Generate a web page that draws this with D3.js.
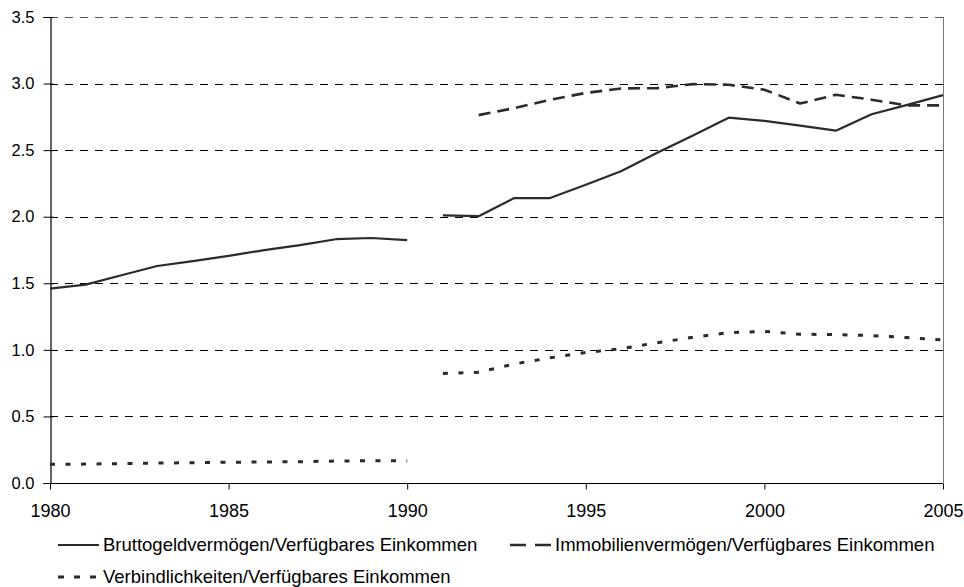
<!DOCTYPE html>
<html>
<head>
<meta charset="utf-8">
<script src="https://cdn.jsdelivr.net/npm/d3@7"></script>
<style>
  html, body { margin: 0; padding: 0; background: #fff; }
  svg { display: block; font-family: "Liberation Sans", Arial, sans-serif; }
</style>
</head>
<body>
<svg id="chart" width="964" height="587"></svg>
<script>
// Ratios to disposable income (Germany), 1980–2005; break in 1990/91
const yearsWest = [1980, 1981, 1982, 1983, 1984, 1985, 1986, 1987, 1988, 1989, 1990];
const yearsUnified = [1991, 1992, 1993, 1994, 1995, 1996, 1997, 1998, 1999, 2000, 2001, 2002, 2003, 2004, 2005];
const yearsRealEstate = [1992, 1993, 1994, 1995, 1996, 1997, 1998, 1999, 2000, 2001, 2002, 2003, 2004, 2005];

const bruttoWest = [1.46, 1.49, 1.56, 1.63, 1.667, 1.706, 1.749, 1.786, 1.831, 1.84, 1.824];
const bruttoUnified = [2.01, 2.004, 2.14, 2.14, 2.24, 2.343, 2.48, 2.61, 2.744, 2.72, 2.684, 2.646, 2.77, 2.84, 2.913];

const immobilien = [2.763, 2.816, 2.878, 2.93, 2.963, 2.966, 2.996, 2.991, 2.954, 2.85, 2.916, 2.879, 2.836, 2.836];

const verbWest = [0.14, 0.142, 0.146, 0.15, 0.152, 0.156, 0.158, 0.16, 0.165, 0.167, 0.168];
const verbUnified = [0.822, 0.832, 0.894, 0.94, 0.98, 1.009, 1.054, 1.094, 1.129, 1.139, 1.117, 1.115, 1.107, 1.092, 1.074];

const xTicks = [1980, 1985, 1990, 1995, 2000, 2005];
const yTicks = [0, 0.5, 1.0, 1.5, 2.0, 2.5, 3.0, 3.5];

const legendLabels = [
  "Bruttogeldvermögen/Verfügbares Einkommen",
  "Immobilienvermögen/Verfügbares Einkommen",
  "Verbindlichkeiten/Verfügbares Einkommen"
];

const margin = { top: 17, right: 21, bottom: 104, left: 50 };
const W = 964, H = 587;
const svg = d3.select("#chart");

const x = d3.scaleLinear().domain([1980, 2005]).range([margin.left, W - margin.right]);
const y = d3.scaleLinear().domain([0, 3.5]).range([H - margin.bottom, margin.top]);

const ink = "#2b2b2b";
const styles = {
  solid:  { width: 2.2, dash: null },
  dashed: { width: 2.6, dash: "12,7" },
  dotted: { width: 3,   dash: "5,10.5" }
};

// horizontal dashed gridlines
svg.append("g")
  .selectAll("line")
  .data(yTicks.filter(d => d > 0))
  .join("line")
  .attr("x1", margin.left)
  .attr("x2", W - margin.right)
  .attr("y1", d => Math.round(y(d)) + 0.5)
  .attr("y2", d => Math.round(y(d)) + 0.5)
  .attr("stroke", d => d === 3.5 ? "#555" : "#000")
  .attr("stroke-width", 1)
  .attr("stroke-dasharray", "8,7");

// right border of the plot area
svg.append("line")
  .attr("x1", Math.round(x(2005)) + 0.5)
  .attr("x2", Math.round(x(2005)) + 0.5)
  .attr("y1", y(3.5))
  .attr("y2", y(0))
  .attr("stroke", "#777")
  .attr("stroke-width", 1);

// axes
const yAxis = d3.axisLeft(y).tickValues(yTicks).tickFormat(d3.format(".1f")).tickSize(7).tickPadding(9);
const gy = svg.append("g").attr("transform", `translate(${Math.round(x(1980)) + 0.5},0)`).call(yAxis);
gy.selectAll(".tick line").attr("x2", 3).attr("x1", -7);

const xAxis = d3.axisBottom(x).tickValues(xTicks).tickFormat(d3.format("d")).tickSize(6).tickPadding(15);
const gx = svg.append("g").attr("transform", `translate(0,${Math.round(y(0)) + 0.5})`).call(xAxis);

[gx, gy].forEach(g => {
  g.select(".domain").attr("stroke", "#000").attr("stroke-width", 1.2);
  g.selectAll(".tick line").attr("stroke", "#000");
  g.selectAll(".tick text").attr("fill", "#000");
});
gy.selectAll(".tick text").style("font-size", "16.5px");
gx.selectAll(".tick text").style("font-size", "18px");
gx.select(".domain").attr("d", `M${x(1980)},0H${x(2005)}`);

// series lines
const line = d3.line().x(d => x(d[0])).y(d => y(d[1]));
const zip = (xs, vs) => xs.map((yr, i) => [yr, vs[i]]);

const series = [
  { pts: zip(yearsWest, bruttoWest), s: styles.solid },
  { pts: zip(yearsUnified, bruttoUnified), s: styles.solid },
  { pts: zip(yearsRealEstate, immobilien), s: styles.dashed },
  { pts: zip(yearsWest, verbWest), s: styles.dotted },
  { pts: zip(yearsUnified, verbUnified), s: styles.dotted }
];

svg.append("g")
  .selectAll("path")
  .data(series)
  .join("path")
  .attr("d", d => line(d.pts))
  .attr("fill", "none")
  .attr("stroke", ink)
  .attr("stroke-width", d => d.s.width)
  .attr("stroke-dasharray", d => d.s.dash)
  .attr("stroke-linejoin", "round");

// legend
const legendItems = [
  { label: legendLabels[0], s: styles.solid,  x0: 58,  y0: 545 },
  { label: legendLabels[1], s: styles.dashed, x0: 510, y0: 545 },
  { label: legendLabels[2], s: styles.dotted, x0: 58,  y0: 577 }
];
const lg = svg.append("g").selectAll("g").data(legendItems).join("g");
lg.append("line")
  .attr("x1", d => d.x0)
  .attr("x2", d => d.x0 + 41)
  .attr("y1", d => d.y0)
  .attr("y2", d => d.y0)
  .attr("stroke", ink)
  .attr("stroke-width", d => d.s.width)
  .attr("stroke-dasharray", d => d.s === styles.dashed ? "16,9" : (d.s === styles.dotted ? "6,10" : null));
lg.append("text")
  .attr("x", d => d.x0 + 45)
  .attr("y", d => d.y0)
  .attr("dy", "0.35em")
  .attr("fill", "#000")
  .style("font-size", "18.5px")
  .text(d => d.label);
</script>
</body>
</html>
